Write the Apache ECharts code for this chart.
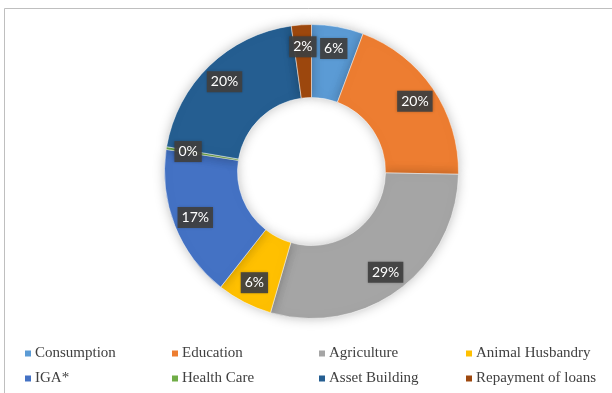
<!DOCTYPE html>
<html><head><meta charset="utf-8">
<script src="https://cdn.jsdelivr.net/npm/echarts@6/dist/echarts.min.js"></script>
<style>html,body{margin:0;padding:0;background:#fff}#c{width:612px;height:393px}</style>
</head><body><div id="c"></div>
<script>
const categories = ['Consumption','Education','Agriculture','Animal Husbandry','IGA*','Health Care','Asset Building','Repayment of loans'];
const values = [5.7, 19.6, 29.2, 6.1, 16.8, 0.3, 20.1, 2.2];
const colors = ['#5B9BD5','#ED7D31','#A5A5A5','#FFC000','#4472C4','#70AD47','#255E91','#9E480E'];

const data = categories.map((n,i)=>({name:n, value:values[i], itemStyle:{color:colors[i]}}));
const legends = categories.map((n,i)=>({
  data:[n],
  left: 18 + (i%4)*147, top: 341 + Math.floor(i/4)*25,
  itemWidth: 8, itemHeight: 8, itemGap: 0, icon:'rect',
  textStyle:{fontFamily:'Liberation Serif', fontSize:15, color:'#404040', padding:[0,0,0,-2]},
  selectedMode:false
}));
const chart = echarts.init(document.getElementById('c'));
chart.setOption({
  animation:false,
  color: colors,
  graphic:[{type:'rect', shape:{x:4.5,y:8.5,width:640,height:420}, style:{fill:'none',stroke:'#bfbfbf',lineWidth:1}, silent:true}],
  legend: legends,
  series:[{
    type:'pie', center:[311.5,171.5], radius:[74,147], startAngle:90, clockwise:true,
    avoidLabelOverlap:false, silent:true,
    itemStyle:{borderColor:'#fff', borderWidth:0.5, shadowBlur:12, shadowColor:'rgba(0,0,0,0.25)'},
    label:{show:false}, labelLine:{show:false},
    data: data
  },{
    type:'pie', center:[311.5,171.5], radius:[97,147], startAngle:90, clockwise:true,
    avoidLabelOverlap:false, silent:true,
    itemStyle:{color:'rgba(0,0,0,0)'},
    label:{show:true, position:'inside', formatter:p=>Math.round(p.percent)+'%',
      color:'#fff', fontFamily:'Lato', fontSize:14, backgroundColor:'rgba(64,64,64,0.92)', padding:[4,4,3,4],
      shadowBlur:3, shadowColor:'rgba(0,0,0,0.3)'},
    labelLine:{show:false},
    data: categories.map((n,i)=>({name:n, value:values[i]}))
  }]
});
</script></body></html>
